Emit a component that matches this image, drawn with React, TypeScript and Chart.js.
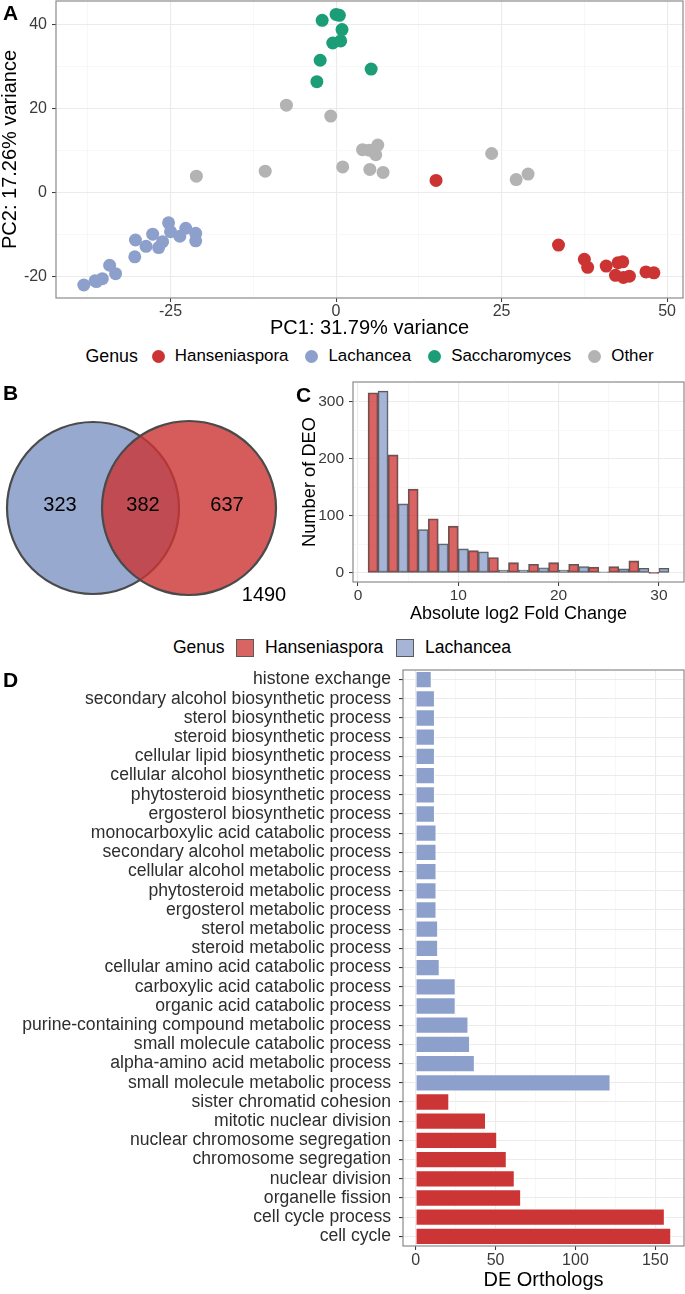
import React, { useEffect, useRef } from "react";
import { Chart, registerables } from "chart.js";

Chart.register(...registerables);

const FONT = "'Liberation Sans', Arial, Helvetica, sans-serif";
Chart.defaults.font.family = FONT;

// ---------------- Panel A: PCA ----------------
const pcaGenera = ["Hanseniaspora", "Lachancea", "Saccharomyces", "Other"];
const pcaColors = ["#CC3333", "#8DA0CB", "#1B9E77", "#B3B3B3"];
const hansPC1 = [15.1, 33.6, 37.5, 38.0, 40.8, 42.6, 43.3, 42.2, 43.4, 44.3, 46.8, 48.0];
const hansPC2 = [2.8, -12.6, -16.0, -17.9, -17.6, -16.8, -16.6, -19.8, -20.3, -20.0, -19.0, -19.2];
const lachPC1 = [-38.1, -36.4, -36.2, -35.3, -34.2, -33.3, -30.4, -30.3, -28.7, -27.7, -26.8, -26.2, -25.3, -25.0, -23.6, -22.7, -21.2, -21.2];
const lachPC2 = [-22.1, -21.1, -21.3, -20.6, -17.4, -19.4, -15.4, -11.4, -12.9, -10.0, -13.2, -11.8, -7.3, -9.4, -10.5, -8.6, -9.8, -11.6];
const saccPC1 = [-2.1, 0.0, 0.5, 0.9, -0.5, 0.7, -2.4, -2.9, 5.3];
const saccPC2 = [40.9, 42.3, 42.1, 38.7, 35.5, 36.0, 31.4, 26.3, 29.3];
const otherPC1 = [-7.5, -0.8, -21.1, -10.7, 1.0, 4.0, 5.0, 6.3, 6.0, 5.1, 7.1, 23.5, 27.2, 29.0];
const otherPC2 = [20.7, 18.1, 3.8, 5.0, 6.0, 10.1, 10.0, 11.2, 8.9, 5.4, 4.7, 9.2, 3.0, 4.3];
const pcaX = [hansPC1, lachPC1, saccPC1, otherPC1];
const pcaY = [hansPC2, lachPC2, saccPC2, otherPC2];
const pc1Ticks = [-37.5, -25, -12.5, 0, 12.5, 25, 37.5, 50];
const pc2Ticks = [-20, -10, 0, 10, 20, 30, 40];

// ---------------- Panel B: Venn ----------------
const vennSets = ["Lachancea", "Hanseniaspora"];
const vennCounts = [323, 382, 637]; // Lachancea only, shared, Hanseniaspora only
const vennTotal = 1490;

// ---------------- Panel C: histogram ----------------
const foldBinCentres = [2, 4, 6, 8, 10, 12, 14, 16, 18, 20, 22, 24, 26, 28, 30];
const hansFoldCounts = [316, 207, 147, 95, 82, 39, 27, 18, 15, 18, 15, 10, 11, 21, 0];
const lachFoldCounts = [319, 121, 76, 51, 42, 37, 5, 5, 9, 5, 11, 2, 7, 8, 8];
const foldXTicks = [0, 5, 10, 15, 20, 25, 30];
const foldYTicks = [0, 50, 100, 150, 200, 250, 300];
const histGenera = ["Hanseniaspora", "Lachancea"];
const histColors = ["rgba(204,51,51,0.76)", "rgba(141,160,203,0.78)"];

// ---------------- Panel D: GO terms ----------------
const lachTerms = [
  "histone exchange",
  "secondary alcohol biosynthetic process",
  "sterol biosynthetic process",
  "steroid biosynthetic process",
  "cellular lipid biosynthetic process",
  "cellular alcohol biosynthetic process",
  "phytosteroid biosynthetic process",
  "ergosterol biosynthetic process",
  "monocarboxylic acid catabolic process",
  "secondary alcohol metabolic process",
  "cellular alcohol metabolic process",
  "phytosteroid metabolic process",
  "ergosterol metabolic process",
  "sterol metabolic process",
  "steroid metabolic process",
  "cellular amino acid catabolic process",
  "carboxylic acid catabolic process",
  "organic acid catabolic process",
  "purine-containing compound metabolic process",
  "small molecule catabolic process",
  "alpha-amino acid metabolic process",
  "small molecule metabolic process",
];
const lachCounts = [10, 12, 12, 12, 12, 12, 12, 12, 13, 13, 13, 13, 13, 14, 14, 15, 25, 25, 33, 34, 37, 122];
const hansTerms = [
  "sister chromatid cohesion",
  "mitotic nuclear division",
  "nuclear chromosome segregation",
  "chromosome segregation",
  "nuclear division",
  "organelle fission",
  "cell cycle process",
  "cell cycle",
];
const hansCounts = [21, 44, 51, 57, 62, 66, 156, 160];
const goXTicks = [0, 25, 50, 75, 100, 125, 150];

// ---------------- helpers ----------------
const TICK_COLOR = "#3A3A3A";

function zeroPadding(sc: any) {
  sc.paddingTop = 0;
  sc.paddingBottom = 0;
  sc.paddingLeft = 0;
  sc.paddingRight = 0;
}

function linearAxis(s: any, horizontal: boolean) {
  const isMajor = (v: number) => Math.abs(v / s.majorStep - Math.round(v / s.majorStep)) < 1e-6;
  return {
    type: "linear",
    min: s.min,
    max: s.max,
    offset: false,
    afterBuildTicks: (sc: any) => {
      sc.ticks = s.ticks.map((v: number) => ({ value: v }));
    },
    afterFit: (sc: any) => {
      if (horizontal) sc.height = s.size;
      else sc.width = s.size;
      zeroPadding(sc);
    },
    grid: {
      offset: false,
      color: (c: any) => (c.tick && isMajor(c.tick.value) ? "#EBEBEB" : "#F3F3F3"),
      lineWidth: (c: any) => (c.tick && isMajor(c.tick.value) ? 1.1 : 0.7),
      tickColor: (c: any) => (c.tick && isMajor(c.tick.value) ? "#333333" : "rgba(0,0,0,0)"),
      tickLength: 4,
      tickWidth: 1,
    },
    border: { display: false },
    ticks: {
      autoSkip: false,
      maxRotation: 0,
      minRotation: 0,
      padding: s.tickPad,
      color: TICK_COLOR,
      font: { size: s.tickSize, lineHeight: 1 },
      callback: (v: any) => (isMajor(Number(v)) ? String(v) : ""),
    },
    title: {
      display: true,
      text: s.title,
      color: "#000",
      font: { size: s.titleSize, lineHeight: 1 },
      padding: horizontal ? { top: 0, bottom: s.titlePad } : { top: s.titlePad, bottom: 0 },
    },
  };
}

const panelBorder = {
  id: "panelBorder",
  afterDraw(chart: any) {
    const { ctx, chartArea: a } = chart;
    ctx.save();
    ctx.strokeStyle = "#8A8A8A";
    ctx.lineWidth = 1.2;
    ctx.strokeRect(a.left, a.top, a.right - a.left, a.bottom - a.top);
    ctx.restore();
  },
};

const baseOptions = {
  animation: false,
  responsive: false,
  devicePixelRatio: 1,
  events: [],
  plugins: { legend: { display: false }, tooltip: { enabled: false } },
};

// ---------------- chart configs ----------------
function pcaConfig(): any {
  return {
    type: "scatter",
    data: {
      datasets: pcaGenera.map((g, i) => ({
        label: g,
        data: pcaX[i].map((x, j) => ({ x, y: pcaY[i][j] })),
        backgroundColor: pcaColors[i],
        borderWidth: 0,
        pointRadius: 6.5,
      })),
    },
    options: {
      ...baseOptions,
      layout: { autoPadding: false, padding: { top: 1, right: 2, left: 0, bottom: 0 } },
      scales: {
        x: linearAxis({ min: -42.3, max: 52.4, ticks: pc1Ticks, majorStep: 25, size: 42, title: "PC1: 31.79% variance", titleSize: 20, titlePad: 2, tickSize: 16, tickPad: 2 }, true),
        y: linearAxis({ min: -25.2, max: 45.5, ticks: pc2Ticks, majorStep: 20, size: 56, title: "PC2: 17.26% variance", titleSize: 20, titlePad: 0, tickSize: 16, tickPad: 5 }, false),
      },
    },
    plugins: [panelBorder],
  };
}

// Venn layout (drawing units = pixels of the panel)
const vennCircleX = [93, 189];
const vennCircleY = [128, 128];
const vennRadius = [86, 87];
const vennLabelX = [60, 143, 227, 264];
const vennLabelY = [125, 125, 125, 215];

function vennConfig(): any {
  const values = [...vennCounts, vennTotal];
  const labelsPlugin = {
    id: "vennLabels",
    afterDatasetsDraw(chart: any) {
      const { ctx, scales } = chart;
      ctx.save();
      ctx.font = `20px ${FONT}`;
      ctx.fillStyle = "#000";
      ctx.textAlign = "center";
      ctx.textBaseline = "middle";
      values.forEach((v, i) => {
        ctx.fillText(String(v), scales.x.getPixelForValue(vennLabelX[i]), scales.y.getPixelForValue(vennLabelY[i]));
      });
      ctx.restore();
    },
  };
  return {
    type: "bubble",
    data: {
      datasets: vennSets.map((s, i) => ({
        label: s,
        data: [{ x: vennCircleX[i], y: vennCircleY[i], r: vennRadius[i] }],
        backgroundColor: i === 0 ? "rgba(141,160,203,0.9)" : "rgba(204,51,51,0.8)",
        borderColor: "#4A4A4A",
        borderWidth: 2.2,
        clip: false,
        // higher order is drawn first: Lachancea below, Hanseniaspora on top
        order: i === 0 ? 1 : 0,
      })),
    },
    options: {
      ...baseOptions,
      layout: { autoPadding: false, padding: 0 },
      scales: {
        x: { type: "linear", display: false, min: 0, max: 290 },
        y: { type: "linear", display: false, min: 0, max: 240, reverse: true },
      },
    },
    plugins: [labelsPlugin],
  };
}

function histConfig(): any {
  const series = [hansFoldCounts, lachFoldCounts];
  return {
    type: "bar",
    data: {
      datasets: histGenera.map((g, k) => ({
        label: g,
        data: foldBinCentres.map((c, i) => ({ x: c + (k === 0 ? -0.5 : 0.5), y: series[k][i] })),
        backgroundColor: histColors[k],
        borderColor: "#5A5A5A",
        borderWidth: 1.2,
        borderSkipped: false,
        barPercentage: 1,
        categoryPercentage: 1,
        grouped: false,
        minBarLength: 1,
      })),
    },
    options: {
      ...baseOptions,
      layout: { autoPadding: false, padding: { top: 7, right: 1, left: 0, bottom: 0 } },
      scales: {
        x: linearAxis({ min: -0.5, max: 32.5, ticks: foldXTicks, majorStep: 10, size: 43, title: "Absolute log2 Fold Change", titleSize: 18, titlePad: 2, tickSize: 15.5, tickPad: 2 }, true),
        y: linearAxis({ min: -16, max: 335, ticks: foldYTicks, majorStep: 100, size: 63, title: "Number of DEO", titleSize: 18.3, titlePad: 11, tickSize: 15.5, tickPad: 5 }, false),
      },
    },
    plugins: [panelBorder],
  };
}

function goConfig(): any {
  const labels = [...lachTerms, ...hansTerms];
  const nL = lachTerms.length;
  return {
    type: "bar",
    data: {
      labels,
      datasets: [
        {
          label: "Lachancea",
          data: labels.map((_, i) => (i < nL ? lachCounts[i] : null)),
          backgroundColor: "#8DA0CB",
        },
        {
          label: "Hanseniaspora",
          data: labels.map((_, i) => (i >= nL ? hansCounts[i - nL] : null)),
          backgroundColor: "#CC3535",
        },
      ].map((d) => ({
        ...d,
        borderColor: "rgba(255,255,255,0.85)",
        borderWidth: 1,
        barPercentage: 0.9,
        categoryPercentage: 1,
        grouped: false,
      })),
    },
    options: {
      ...baseOptions,
      indexAxis: "y",
      layout: { autoPadding: false, padding: { top: 10, right: 1, left: 0, bottom: 0 } },
      scales: {
        x: linearAxis({ min: -8, max: 168, ticks: goXTicks, majorStep: 50, size: 48, title: "DE Orthologs", titleSize: 20, titlePad: 4, tickSize: 16, tickPad: 3 }, true),
        y: {
          type: "category",
          offset: true,
          afterFit: (sc: any) => {
            sc.width = 403;
            zeroPadding(sc);
          },
          grid: { offset: false, color: "#EBEBEB", lineWidth: 1.1, tickColor: "#333333", tickLength: 4 },
          border: { display: false },
          ticks: { autoSkip: false, padding: 8, color: "#2E2E2E", font: { size: 17.6, lineHeight: 1 } },
        },
      },
    },
    plugins: [panelBorder],
  };
}

// ---------------- components ----------------
function ChartCanvas({ left, top, width, height, make }: any) {
  const ref = useRef<HTMLCanvasElement>(null);
  useEffect(() => {
    const chart = new Chart(ref.current as HTMLCanvasElement, make());
    return () => chart.destroy();
  }, []);
  return (
    <canvas
      ref={ref}
      width={width}
      height={height}
      style={{ position: "absolute", left, top, width, height }}
    />
  );
}

function Text({ x, base, size, bold, children }: any) {
  return (
    <div
      style={{
        position: "absolute",
        left: x,
        top: base - 0.8465 * size,
        fontSize: size,
        lineHeight: `${size}px`,
        fontWeight: bold ? "bold" : "normal",
        whiteSpace: "nowrap",
        color: "#000",
      }}
    >
      {children}
    </div>
  );
}

const legendCBoxX = [236, 396];
const legendCTextX = [265, 425];

export default function App() {
  return (
    <div
      style={{
        position: "absolute",
        left: 0,
        top: 0,
        width: 685,
        height: 1294,
        background: "#fff",
        fontFamily: FONT,
        overflow: "hidden",
      }}
    >
      <ChartCanvas left={0} top={0} width={685} height={340} make={pcaConfig} />
      <ChartCanvas left={0} top={380} width={290} height={240} make={vennConfig} />
      <ChartCanvas left={290} top={375} width={395} height={250} make={histConfig} />
      <ChartCanvas left={0} top={660} width={685} height={634} make={goConfig} />

      {/* Panel A legend, centred on the plot panel */}
      <div
        style={{
          position: "absolute",
          left: 56,
          width: 627,
          top: 342,
          height: 28,
          display: "flex",
          justifyContent: "center",
          alignItems: "center",
          whiteSpace: "nowrap",
          color: "#000",
        }}
      >
        <span style={{ fontSize: 17.8, marginRight: 12 }}>Genus</span>
        {pcaGenera.map((g, i) => (
          <React.Fragment key={g}>
            <span style={{ width: 17, height: 17, display: "flex", alignItems: "center", justifyContent: "center" }}>
              <span style={{ width: 13, height: 13, borderRadius: "50%", background: pcaColors[i], display: "block" }} />
            </span>
            <span style={{ fontSize: 16.9, marginLeft: 8, marginRight: i < pcaGenera.length - 1 ? 15 : 0 }}>{g}</span>
          </React.Fragment>
        ))}
      </div>

      {/* Panel C legend */}
      <Text x={173} base={654} size={17.5}>Genus</Text>
      {histGenera.map((g, i) => (
        <React.Fragment key={g}>
          <div
            style={{
              position: "absolute",
              left: legendCBoxX[i],
              top: 638.5,
              width: 18,
              height: 18,
              boxSizing: "border-box",
              border: "1.2px solid #5A5A5A",
              background: histColors[i],
            }}
          />
          <Text x={legendCTextX[i]} base={654} size={17.6}>{g}</Text>
        </React.Fragment>
      ))}

      {/* panel letters */}
      <Text x={3} base={20} size={21} bold>A</Text>
      <Text x={3} base={400} size={21} bold>B</Text>
      <Text x={296} base={402} size={21} bold>C</Text>
      <Text x={3} base={687} size={21} bold>D</Text>
    </div>
  );
}
